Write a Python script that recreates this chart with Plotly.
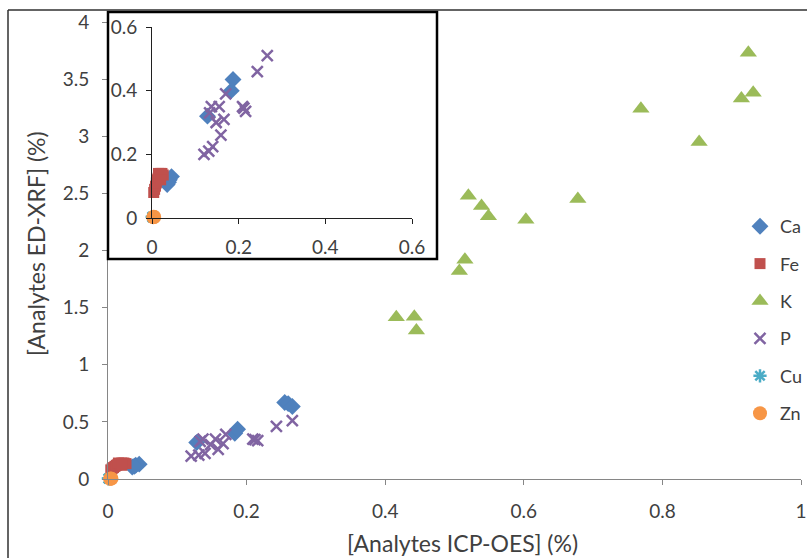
import plotly.graph_objects as go

# ---- data ----
ca_x = [0.035, 0.040, 0.045, 0.038, 0.128, 0.183, 0.187, 0.255, 0.260, 0.266]
ca_y = [0.105, 0.120, 0.130, 0.112, 0.320, 0.400, 0.435, 0.670, 0.660, 0.635]

fe_x = [0.004, 0.006, 0.008, 0.010, 0.012, 0.014, 0.017, 0.020, 0.023, 0.026, 0.015, 0.020]
fe_y = [0.080, 0.090, 0.100, 0.110, 0.120, 0.125, 0.130, 0.140, 0.140, 0.135, 0.140, 0.120]

k_x = [0.924, 0.931, 0.914, 0.769, 0.853, 0.520, 0.539, 0.549, 0.603, 0.678,
       0.515, 0.507, 0.416, 0.442, 0.445]
k_y = [3.73, 3.38, 3.33, 3.24, 2.95, 2.48, 2.39, 2.30, 2.27, 2.45,
       1.92, 1.82, 1.415, 1.42, 1.30]

p_x = [0.120, 0.131, 0.140, 0.159, 0.148, 0.166, 0.133, 0.137, 0.155, 0.170,
       0.209, 0.216, 0.212, 0.243, 0.266]
p_y = [0.200, 0.210, 0.224, 0.260, 0.300, 0.310, 0.330, 0.350, 0.350, 0.390,
       0.350, 0.335, 0.345, 0.460, 0.510]

cu_x = [0.0005, 0.001, 0.002]
cu_y = [0.004, 0.002, 0.003]

zn_x = [0.003, 0.004, 0.005]
zn_y = [0.002, 0.004, 0.003]

x_ticks = [0, 0.2, 0.4, 0.6, 0.8, 1]
y_ticks = [0, 0.5, 1, 1.5, 2, 2.5, 3, 3.5, 4]
inset_ticks = [0, 0.2, 0.4, 0.6]
inset_max = 0.6

series = [
    ("Ca", ca_x, ca_y, dict(symbol="diamond", size=13, color="#4F81BD")),
    ("Fe", fe_x, fe_y, dict(symbol="square", size=11, color="#C0504D")),
    ("K", k_x, k_y, dict(symbol="triangle-up", size=15, color="#9BBB59")),
    ("P", p_x, p_y, dict(symbol="x-thin", size=11, color="#8064A2",
                         line=dict(width=2.5, color="#8064A2"))),
    ("Cu", cu_x, cu_y, dict(symbol="asterisk", size=11, color="#4BACC6",
                            line=dict(width=2.5, color="#4BACC6"))),
    ("Zn", zn_x, zn_y, dict(symbol="circle", size=14, color="#F79646")),
]

FONT = "Lato"
TXT = "#404040"

fig = go.Figure()
for i, (name, xs, ys, mk) in enumerate(series):
    fig.add_trace(go.Scatter(x=xs, y=ys, mode="markers", name=name, marker=mk,
                             legendgroup=name, cliponaxis=False,
                             xaxis="x", yaxis="y"))
for i, (name, xs, ys, mk) in enumerate(series):
    pts = [(a, b) for a, b in zip(xs, ys) if a <= inset_max and b <= inset_max]
    if not pts:
        continue
    fig.add_trace(go.Scatter(x=[p[0] for p in pts], y=[p[1] for p in pts],
                             mode="markers", name=name, marker=mk,
                             showlegend=False, cliponaxis=False,
                             xaxis="x2", yaxis="y2"))

W, H = 807, 558
L, R, T, B = 108, 6, 22, 79
pw, ph = W - L - R, H - T - B

def px(xpix):
    return (xpix - L) / pw

def py(ypix):
    return (H - B - ypix) / ph

axis_common = dict(showgrid=False, zeroline=False, showline=True, ticks="outside",
                   ticklen=5, automargin=False,
                   tickfont=dict(family=FONT, size=19, color=TXT))

fig.update_layout(
    width=W, height=H,
    margin=dict(l=L, r=R, t=T, b=B, autoexpand=False),
    paper_bgcolor="white", plot_bgcolor="white",
    font=dict(family=FONT, color=TXT),
    xaxis=dict(domain=[0, 1], range=[0, 1], tickvals=x_ticks, ticklabelstandoff=10,
               linecolor="#868686", tickcolor="#868686", **axis_common),
    yaxis=dict(domain=[0, 1], range=[0, 4], tickvals=y_ticks, ticklabelstandoff=9,
               linecolor="#868686", tickcolor="#868686", **axis_common),
    xaxis2=dict(domain=[px(152), px(412)], range=[0, inset_max], tickvals=inset_ticks,
                ticklabelstandoff=7,
                anchor="y2", linecolor="#202020", tickcolor="#202020", **axis_common),
    yaxis2=dict(domain=[py(218), py(27)], range=[0, inset_max], tickvals=inset_ticks,
                ticklabelstandoff=5,
                anchor="x2", linecolor="#202020", tickcolor="#202020", **axis_common),
    legend=dict(x=px(740), y=py(208), xanchor="left", yanchor="top",
                font=dict(family=FONT, size=18, color=TXT),
                tracegroupgap=11, bgcolor="rgba(0,0,0,0)",
                itemwidth=30),
    showlegend=True,
    shapes=[
        dict(type="rect", xref="paper", yref="paper",
             x0=px(108), x1=px(437), y0=py(259), y1=py(12),
             line=dict(color="black", width=2.5), layer="above"),
        dict(type="line", xref="paper", yref="paper",
             x0=px(8), x1=px(8), y0=py(10), y1=py(560),
             line=dict(color="#303030", width=1.5)),
        dict(type="line", xref="paper", yref="paper",
             x0=px(8), x1=px(810), y0=py(10), y1=py(10),
             line=dict(color="#303030", width=1.5)),
    ],
    annotations=[
        dict(text="[Analytes ICP-OES] (%)", xref="paper", yref="paper",
             x=px(462), y=py(543), xanchor="center", yanchor="middle",
             showarrow=False, font=dict(family=FONT, size=23, color=TXT)),
        dict(text="[Analytes ED-XRF] (%)", xref="paper", yref="paper",
             x=px(36), y=py(244), xanchor="center", yanchor="middle",
             showarrow=False, textangle=-90,
             font=dict(family=FONT, size=23, color=TXT)),
    ],
)

fig.write_html("out.html")
